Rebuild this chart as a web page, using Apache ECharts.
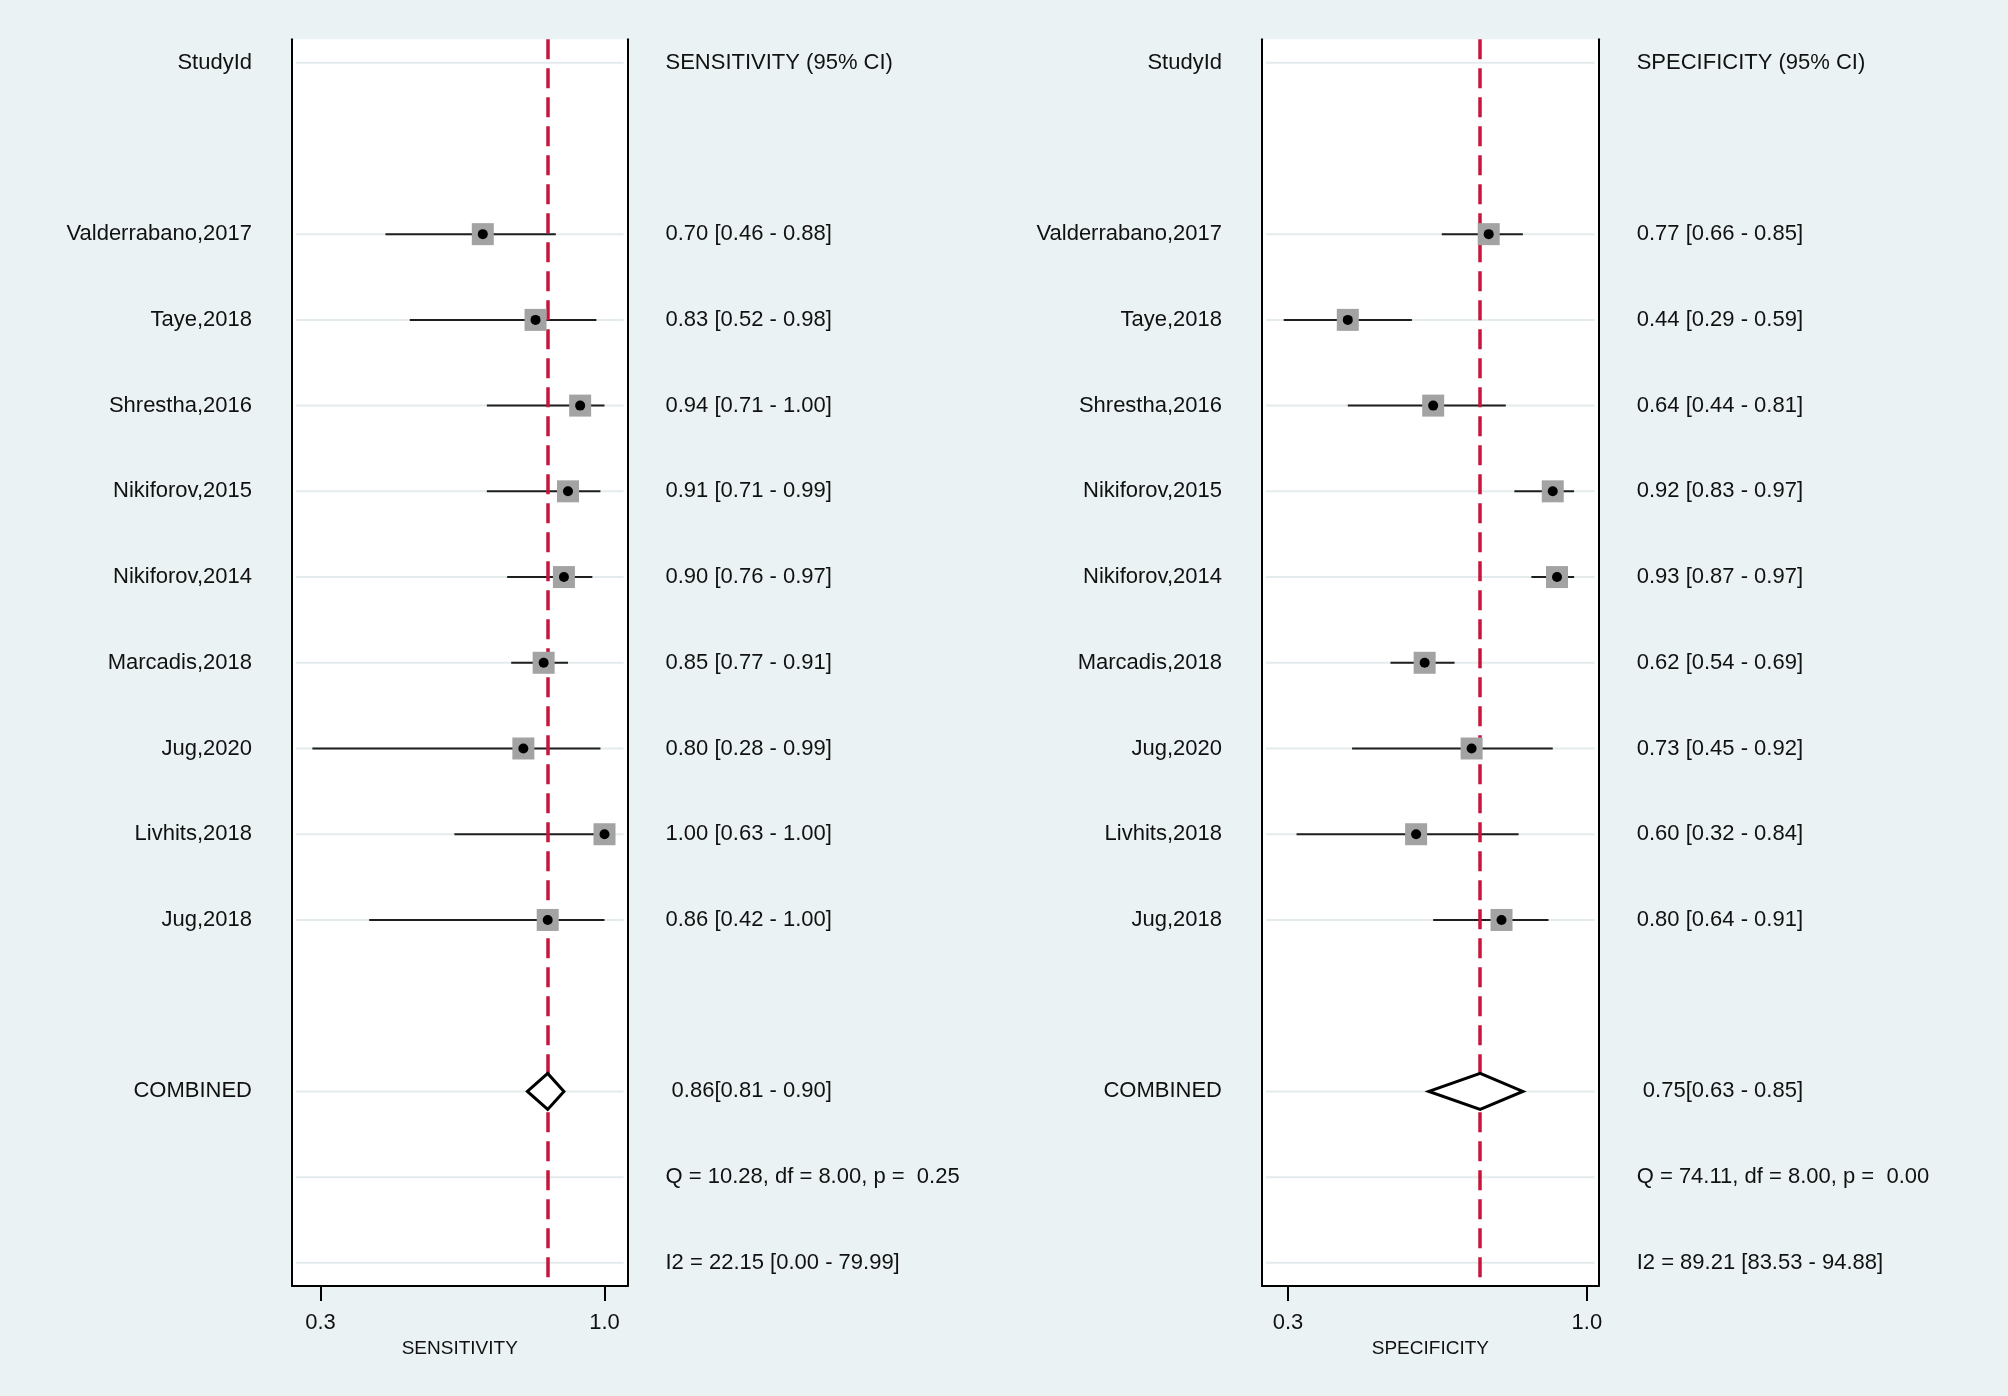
<!DOCTYPE html>
<html>
<head>
<meta charset="utf-8">
<script src="https://cdn.jsdelivr.net/npm/echarts@6/dist/echarts.min.js"></script>
<style>
  html, body {margin: 0; padding: 0; background: #EAF2F3;}
  #main {width: 2008px; height: 1396px;}
</style>
</head>
<body>
<div id="main"></div>
<script>
const studies = ['Valderrabano,2017', 'Taye,2018', 'Shrestha,2016', 'Nikiforov,2015', 'Nikiforov,2014',
    'Marcadis,2018', 'Jug,2020', 'Livhits,2018', 'Jug,2018'];
const sens = [0.70, 0.83, 0.94, 0.91, 0.90, 0.85, 0.80, 1.00, 0.86];
const sensLo = [0.46, 0.52, 0.71, 0.71, 0.76, 0.77, 0.28, 0.63, 0.42];
const sensHi = [0.88, 0.98, 1.00, 0.99, 0.97, 0.91, 0.99, 1.00, 1.00];
const spec = [0.77, 0.44, 0.64, 0.92, 0.93, 0.62, 0.73, 0.60, 0.80];
const specLo = [0.66, 0.29, 0.44, 0.83, 0.87, 0.54, 0.45, 0.32, 0.64];
const specHi = [0.85, 0.59, 0.81, 0.97, 0.97, 0.69, 0.92, 0.84, 0.91];
const sensCombined = [0.86, 0.81, 0.90];
const specCombined = [0.75, 0.63, 0.85];
const sensQ = [10.28, 8.00, 0.25];
const specQ = [74.11, 8.00, 0.00];
const sensI2 = [22.15, 0.00, 79.99];
const specI2 = [89.21, 83.53, 94.88];
const xTicks = [0.3, 1.0];

// row layout: 0 header, 2..10 studies, 12 combined, 13 Q, 14 I2
const studyRows = studies.map((s, i) => i + 2);
const combinedRow = 12;
const lineRows = [0, ...studyRows, 12, 13, 14];

const font = "'Liberation Sans', Arial, sans-serif";
const textColor = '#111111';
const f2 = v => v.toFixed(2);

function rowNames() {
    const m = {0: 'StudyId', 12: 'COMBINED'};
    studies.forEach((s, i) => m[i + 2] = s);
    return m;
}

function statText(title, est, lo, hi, comb, q, i2) {
    const m = {0: title};
    est.forEach((v, i) => m[i + 2] = `${f2(v)} [${f2(lo[i])} - ${f2(hi[i])}]`);
    m[12] = ` ${f2(comb[0])}[${f2(comb[1])} - ${f2(comb[2])}]`;
    m[13] = `Q = ${f2(q[0])}, df = ${f2(q[1])}, p =  ${f2(q[2])}`;
    m[14] = `I2 = ${f2(i2[0])} [${f2(i2[1])} - ${f2(i2[2])}]`;
    return m;
}

const chartDom = document.getElementById('main');
const myChart = echarts.init(chartDom);

function yAxes(gridIndex, labels) {
    const base = {
        type: 'value',
        gridIndex: gridIndex,
        min: -0.273,
        max: 14.27,
        inverse: true,
        splitLine: {show: false},
        axisTick: {show: false},
        axisLine: {show: true, onZero: false, lineStyle: {color: '#000', width: 2}}
    };
    return [
        Object.assign({}, base, {
            position: 'left',
            axisLabel: {
                customValues: [0, ...studyRows, combinedRow],
                formatter: v => rowNames()[v] || '',
                fontSize: 22, fontFamily: font, color: textColor, margin: 40,
                padding: [5, 0, 0, 0]
            }
        }),
        Object.assign({}, base, {
            position: 'right',
            axisLabel: {
                customValues: [0, ...studyRows, 12, 13, 14],
                formatter: v => labels[v] || '',
                fontSize: 22, fontFamily: font, color: textColor, margin: 38,
                padding: [5, 0, 0, 0]
            }
        })
    ];
}

function xAxis(gridIndex, name, min, max) {
    return {
        type: 'value',
        gridIndex: gridIndex,
        position: 'bottom',
        min: min,
        max: max,
        name: name,
        nameLocation: 'middle',
        nameGap: 49,
        nameTextStyle: {fontSize: 19, fontFamily: font, color: textColor},
        splitLine: {show: false},
        axisLine: {show: true, onZero: false, lineStyle: {color: '#000', width: 2}},
        axisTick: {show: true, customValues: xTicks, length: 15, lineStyle: {color: '#000', width: 2}},
        axisLabel: {
            customValues: xTicks,
            formatter: v => v.toFixed(1),
            fontSize: 22, fontFamily: font, color: textColor, margin: 26
        }
    };
}

function panelSeries(idx, est, lo, hi, comb) {
    const axes = {xAxisIndex: idx, yAxisIndex: idx * 2};
    return [
        {
            // faint row lines
            type: 'custom', ...axes, z: 1, silent: true,
            data: lineRows.map(r => [0.5, r]),
            encode: {x: 0, y: 1},
            renderItem: (params, api) => {
                const c = api.coord([api.value(0), api.value(1)]);
                const cs = params.coordSys;
                return {
                    type: 'line',
                    shape: {x1: cs.x + 4, y1: c[1], x2: cs.x + cs.width - 4, y2: c[1]},
                    style: {stroke: '#E4EBED', lineWidth: 2}
                };
            }
        },
        {
            // confidence intervals
            type: 'custom', ...axes, z: 2, silent: true,
            data: est.map((v, i) => [lo[i], hi[i], studyRows[i]]),
            encode: {x: [0, 1], y: 2},
            renderItem: (params, api) => {
                const a = api.coord([api.value(0), api.value(2)]);
                const b = api.coord([api.value(1), api.value(2)]);
                return {
                    type: 'line',
                    shape: {x1: a[0], y1: a[1], x2: b[0], y2: b[1]},
                    style: {stroke: '#1e1e1e', lineWidth: 2}
                };
            },
            markLine: {
                silent: true,
                symbol: 'none',
                label: {show: false},
                z: 3,
                lineStyle: {color: '#C8153D', width: 3.5, type: [20, 9]},
                data: [{xAxis: comb[0]}]
            }
        },
        {
            type: 'scatter', ...axes, z: 4, silent: true,
            symbol: 'rect', symbolSize: 22,
            itemStyle: {color: '#A3A3A3', opacity: 1},
            data: est.map((v, i) => [v, studyRows[i]])
        },
        {
            type: 'scatter', ...axes, z: 5, silent: true,
            symbol: 'circle', symbolSize: 10,
            itemStyle: {color: '#000', opacity: 1},
            data: est.map((v, i) => [v, studyRows[i]])
        },
        {
            // pooled estimate diamond
            type: 'custom', ...axes, z: 6, silent: true,
            data: [[comb[0], comb[1], comb[2], combinedRow]],
            encode: {x: [1, 2], y: 3},
            renderItem: (params, api) => {
                const r = api.value(3);
                const h = 0.21;
                return {
                    type: 'polygon',
                    shape: {
                        points: [
                            api.coord([api.value(1), r]),
                            api.coord([api.value(0), r - h]),
                            api.coord([api.value(2), r]),
                            api.coord([api.value(0), r + h])
                        ]
                    },
                    style: {fill: '#fff', stroke: '#000', lineWidth: 3}
                };
            }
        }
    ];
}

const option = {
    backgroundColor: '#EAF2F3',
    animation: false,
    grid: [
        {left: 292, width: 335.5, top: 39.3, bottom: 110, show: true, backgroundColor: '#fff', borderWidth: 0},
        {left: 1262, width: 336.7, top: 39.3, bottom: 110, show: true, backgroundColor: '#fff', borderWidth: 0}
    ],
    xAxis: [
        xAxis(0, 'SENSITIVITY', 0.2297, 1.0567),
        xAxis(1, 'SPECIFICITY', 0.2391, 1.0276)
    ],
    yAxis: [
        ...yAxes(0, statText('SENSITIVITY (95% CI)', sens, sensLo, sensHi, sensCombined, sensQ, sensI2)),
        ...yAxes(1, statText('SPECIFICITY (95% CI)', spec, specLo, specHi, specCombined, specQ, specI2))
    ],
    series: [
        ...panelSeries(0, sens, sensLo, sensHi, sensCombined),
        ...panelSeries(1, spec, specLo, specHi, specCombined)
    ]
};

option && myChart.setOption(option);
</script>
</body>
</html>
